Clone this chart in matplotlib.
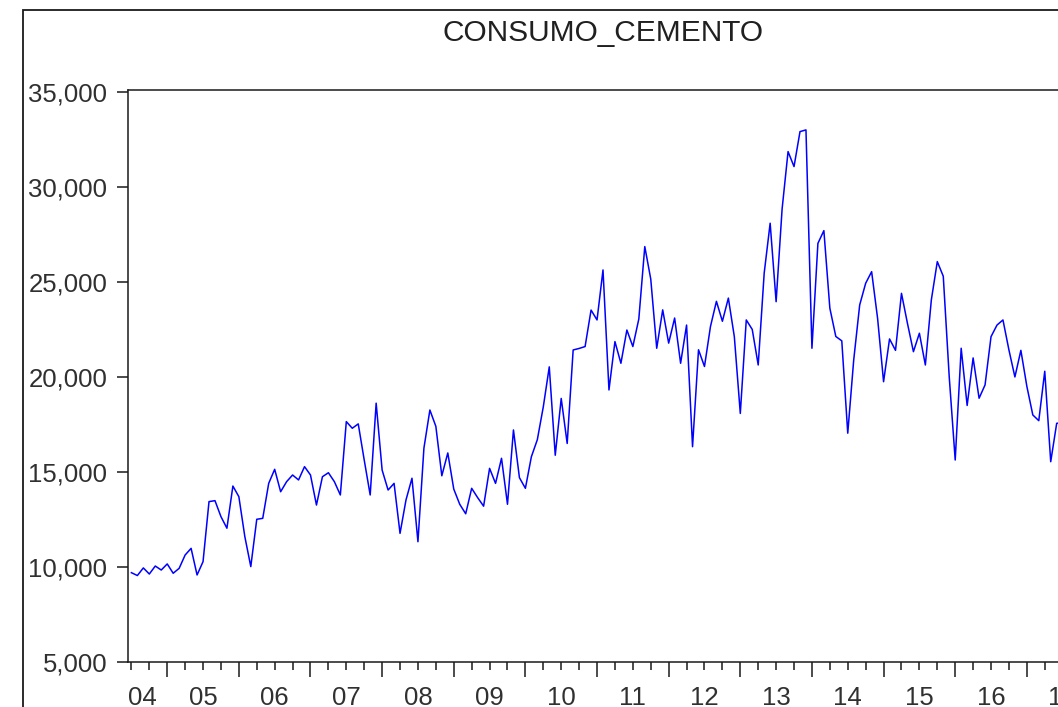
import matplotlib
matplotlib.use("Agg")
import matplotlib.pyplot as plt
import matplotlib.patches as patches
from matplotlib.ticker import FuncFormatter, FixedLocator
import numpy as np

# ---------------- data (monthly, 2004M07 - 2017M09) ----------------
start_year = 2004
start_month = 7
consumo_cemento = [
    9700, 9550, 9950, 9630, 10050, 9840,            # 2004 Jul-Dec
    10160, 9670, 9930, 10630, 10980, 9580,          # 2005 Jan-Jun
    10280, 13440, 13490, 12650, 12040, 14260,       # 2005 Jul-Dec
    13700, 11600, 10020, 12510, 12560, 14400,       # 2006 Jan-Jun
    15140, 13960, 14490, 14840, 14580, 15280,       # 2006 Jul-Dec
    14840, 13260, 14750, 14960, 14490, 13790,       # 2007 Jan-Jun
    17650, 17300, 17530, 15630, 13790, 18620,       # 2007 Jul-Dec
    15100, 14050, 14400, 11770, 13530, 14670,       # 2008 Jan-Jun
    11330, 16250, 18260, 17400, 14800, 16000,       # 2008 Jul-Dec
    14100, 13300, 12800, 14140, 13650, 13200,       # 2009 Jan-Jun
    15190, 14400, 15720, 13300, 17210, 14700,       # 2009 Jul-Dec
    14140, 15800, 16700, 18430, 20530, 15880,       # 2010 Jan-Jun
    18870, 16500, 21420, 21500, 21600, 23520,       # 2010 Jul-Dec
    23000, 25630, 19315, 21860, 20720, 22470,       # 2011 Jan-Jun
    21600, 23050, 26860, 25150, 21510, 23530,       # 2011 Jul-Dec
    21780, 23100, 20720, 22730, 16330, 21430,       # 2012 Jan-Jun
    20550, 22650, 23980, 22930, 24150, 22120,       # 2012 Jul-Dec
    18080, 23000, 22500, 20630, 25460, 28090,       # 2013 Jan-Jun
    23960, 28830, 31860, 31070, 32910, 33000,       # 2013 Jul-Dec
    21510, 27030, 27700, 23620, 22130, 21900,       # 2014 Jan-Jun
    17040, 20900, 23790, 24930, 25540, 23080,       # 2014 Jul-Dec
    19750, 22000, 21400, 24400, 22820, 21330,       # 2015 Jan-Jun
    22300, 20630, 24050, 26070, 25300, 20000,       # 2015 Jul-Dec
    15630, 21510, 18500, 21000, 18880, 19580,       # 2016 Jan-Jun
    22120, 22730, 23000, 21420, 20000, 21400,       # 2016 Jul-Dec
    19510, 18000, 17700, 20300, 15540, 17560,       # 2017 Jan-Jun
    17600, 17500, 17800,                            # 2017 Jul-Sep
]
y_ticks = [5000, 10000, 15000, 20000, 25000, 30000, 35000]
title = "CONSUMO_CEMENTO"

# ---------------- derived x positions ----------------
n = len(consumo_cemento)
months = np.arange(n) + (start_month - 1)
x = start_year + months / 12.0
years = sorted(set((start_year + months // 12).tolist()))

# ---------------- figure ----------------
W, H = 1058, 707
fig = plt.figure(figsize=(W / 100, H / 100), dpi=100)
plt.rcParams['font.family'] = ['Liberation Sans', 'DejaVu Sans']

# outer frame (cut by the image edges like the reference)
frame = patches.Rectangle((23 / W, -0.2), 1.5, 1.2 + (1 - 10 / H) - 1.0,
                          transform=fig.transFigure, fill=False,
                          edgecolor='#1a1a1a', linewidth=1.3)
fig.patches.append(frame)

left_px, right_px, top_px, bottom_px = 128, 1078, 90, 662
ax = fig.add_axes([left_px / W, (H - bottom_px) / H,
                   (right_px - left_px) / W, (bottom_px - top_px) / H])

ax.plot(x, consumo_cemento, color='#0000FF', linewidth=1.1)

step = 1 / 12.0
xmin = x[0] - 0.57 * step
xmax = x[-1] + 0.57 * step
ax.set_xlim(xmin, xmax)
ax.set_ylim(5000, 35100)

for s in ['top', 'left', 'bottom']:
    ax.spines[s].set_linewidth(1.1)
    ax.spines[s].set_color('#1a1a1a')
ax.spines['right'].set_visible(False)

# y axis
ax.yaxis.set_major_locator(FixedLocator(y_ticks))
ax.yaxis.set_major_formatter(FuncFormatter(lambda v, p: f"{int(v):,}"))
ax.tick_params(axis='y', direction='out', length=8, width=1.1, pad=7,
               labelsize=18.5, labelcolor='#303030', color='#1a1a1a')

# x axis: major ticks at January, minor ticks every quarter
major = [yr for yr in years if xmin <= yr <= xmax]
minor = [xx for xx in x[::3]]
ax.xaxis.set_major_locator(FixedLocator(major))
ax.xaxis.set_minor_locator(FixedLocator(minor))
ax.tick_params(axis='x', which='major', direction='out', length=10.5,
               width=1.1, labelbottom=False, color='#1a1a1a')
ax.tick_params(axis='x', which='minor', direction='out', length=5.5,
               width=1.1, color='#1a1a1a')

# year labels at mid-year, kept inside the axis range
half_label = 14 / ((right_px - left_px) / (xmax - xmin))
for yr in years:
    pos = yr + 0.5
    pos = min(max(pos, xmin + half_label), xmax - half_label)
    ax.text(pos, -43 / (bottom_px - top_px), f"{yr % 100:02d}",
            transform=ax.get_xaxis_transform(), ha='center', va='baseline',
            fontsize=18.5, color='#303030', clip_on=False)

fig.text(((left_px + right_px) / 2) / W, 1 - 41 / H, title,
         ha='center', va='baseline', fontsize=21.5, color='#202020')

fig.savefig("out.png", dpi=100)
